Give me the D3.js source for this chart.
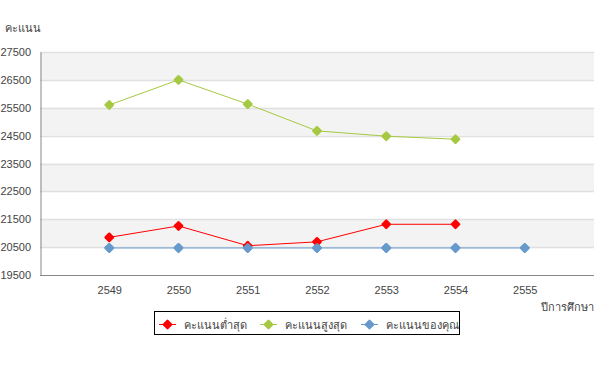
<!DOCTYPE html>
<html><head><meta charset="utf-8">
<script src="https://cdn.jsdelivr.net/npm/d3@7"></script>
<style>
body{margin:0;background:#fff;}
text{font-family:Tahoma,"Liberation Sans",Arial,sans-serif;font-size:11px;fill:#444;}
</style></head>
<body><svg id="c" width="613" height="366"></svg>
<script>
const years = ["2549","2550","2551","2552","2553","2554","2555"];
const yTicks = [19500,20500,21500,22500,23500,24500,25500,26500,27500];
const minScore = [20850,21260,20550,20690,21320,21320];
const maxScore = [25600,26500,25630,24670,24480,24370];
const yourScore = [20470,20470,20470,20470,20470,20470,20470];
const seriesNames = ["คะแนนต่ำสุด","คะแนนสูงสุด","คะแนนของคุณ"];
const colors = ["#ff0000","#a5c940","#6699cc"];

const svg = d3.select("#c");
const L=40,R=594,T=52,B=275;
const x = d3.scalePoint().domain(years).range([L,R]).padding(1);
const y = d3.scaleLinear().domain([19500,27500]).range([B,T]);

// bands
for(let i=0;i<yTicks.length-1;i++){
  if(i%2===1){
    svg.append("rect").attr("x",L).attr("width",R-L)
      .attr("y",y(yTicks[i+1])).attr("height",y(yTicks[i])-y(yTicks[i+1]))
      .attr("fill","#f3f3f3");
  }
}
// grid
svg.append("g").selectAll("line").data(yTicks.slice(1)).join("line")
  .attr("x1",L).attr("x2",R).attr("y1",d=>Math.round(y(d))+0.5).attr("y2",d=>Math.round(y(d))+0.5)
  .attr("stroke","#e0e0e0").attr("stroke-width",1.5);

// axes
const ya = d3.axisLeft(y).tickValues(yTicks).tickSize(0).tickPadding(9.5).tickFormat(d3.format("d"));
const yg = svg.append("g").attr("transform",`translate(${L+0.5},0)`).call(ya);
yg.select(".domain").attr("stroke","#888");
yg.selectAll("text").style("font-size","11px").style("font-family","Tahoma,'Liberation Sans',Arial,sans-serif").attr("fill","#444");
const xa = d3.axisBottom(x).tickSize(0).tickPadding(11);
const xg = svg.append("g").attr("transform",`translate(0,${B+0.5})`).call(xa);
xg.select(".domain").attr("stroke","#888").attr("d",`M${L},0H${R}`);
xg.selectAll("text").style("font-size","11px").style("font-family","Tahoma,'Liberation Sans',Arial,sans-serif").attr("fill","#444");

svg.append("text").attr("x",5).attr("y",32).text("คะแนน");
svg.append("text").attr("x",594).attr("y",311).attr("text-anchor","end").text("ปีการศึกษา");

const marker = (g,cx,cy,c)=>g.append("rect").attr("x",-3.8).attr("y",-3.8).attr("width",7.6).attr("height",7.6)
  .attr("rx",1.2).attr("fill",c).attr("transform",`translate(${cx},${cy}) rotate(45)`);

const allSeries=[minScore,maxScore,yourScore];
const draw=[1,2,0];
draw.forEach(si=>{
  const data=allSeries[si];
  const g=svg.append("g");
  const line=d3.line().x((d,i)=>x(years[i])).y(d=>y(d));
  g.append("path").attr("d",line(data)).attr("fill","none").attr("stroke",colors[si]).attr("stroke-width",1);
  data.forEach((d,i)=>marker(g,x(years[i]),y(d),colors[si]));
});
{
  const g=svg.append("g");
  yourScore.forEach((d,i)=>marker(g,x(years[i]),y(d),colors[2]));
}

// legend
const lg=svg.append("g");
lg.append("rect").attr("x",154.5).attr("y",311.5).attr("width",305).attr("height",23)
  .attr("fill","#fff").attr("stroke","#000").attr("stroke-width",1);
const lx=[159,260,361];
seriesNames.forEach((n,i)=>{
  lg.append("line").attr("x1",lx[i]).attr("x2",lx[i]+17).attr("y1",324.5).attr("y2",324.5)
    .attr("stroke",colors[i]).attr("stroke-width",1);
  marker(lg,lx[i]+8.5,324.5,colors[i]);
  lg.append("text").attr("x",lx[i]+25).attr("y",328.5).text(n);
});
</script></body></html>
